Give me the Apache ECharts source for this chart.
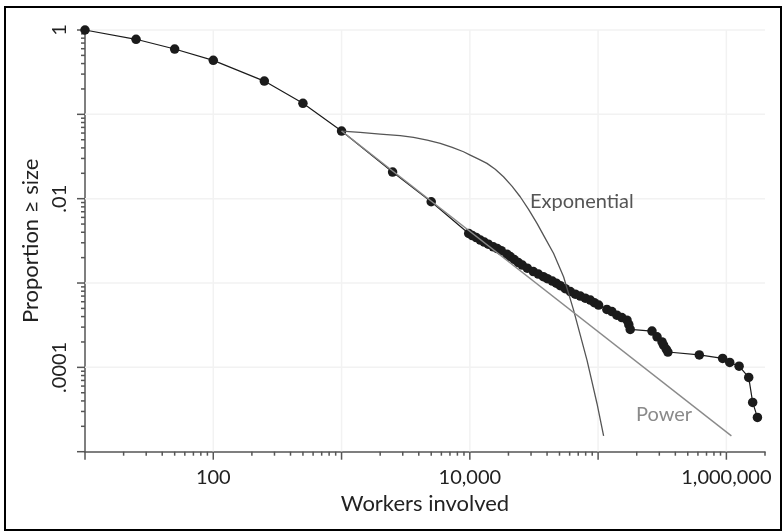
<!DOCTYPE html>
<html><head><meta charset="utf-8">
<script src="https://cdn.jsdelivr.net/npm/echarts@6/dist/echarts.min.js"></script>
<style>html,body{margin:0;padding:0;background:#fff}#c{width:783px;height:531px}</style>
</head><body><div id="c"></div>
<script>
// ---- data ----
const workers = [10, 25, 50, 100, 250, 500, 1000, 2500, 5000,
  9800, 10450, 11220, 12060, 12950, 13930, 15230, 16370, 17580, 19460, 20650, 22190, 23870, 25640,
  28050, 31250, 34190, 37400, 40180, 43950, 47200, 50700, 55460, 60700, 66400, 72600, 79400, 86900,
  93400, 100900, 117000, 128000, 140000, 153000, 168000, 173500, 178000, 263000, 288000, 315000,
  324000, 340000, 350000, 615000, 935000, 1062000, 1256000, 1493000, 1603000, 1746000];
const proportion = [1, 0.776, 0.595, 0.437, 0.248, 0.135, 0.0634, 0.0207, 0.0092,
  0.00387, 0.00365, 0.00346, 0.00323, 0.00306, 0.00289, 0.00269, 0.00256, 0.00242, 0.0022, 0.00206, 0.0019, 0.00175, 0.00163,
  0.0015, 0.001365, 0.001275, 0.00119, 0.001127, 0.001054, 0.000997, 0.000931, 0.000858, 0.000791, 0.000738, 0.0007, 0.000662, 0.000627,
  0.000585, 0.000547, 0.000486, 0.000458, 0.000416, 0.000389, 0.000363, 0.000321, 0.000282, 0.000269, 0.00023, 0.0002,
  0.000183, 0.000164, 0.000152, 0.0001406, 0.0001276, 0.0001143, 0.0001033, 0.0000759, 0.0000384, 0.0000255];
const expX = [1000, 1396, 2000, 2866, 3640, 4653, 5880, 7290, 8930, 10070, 11700, 13600, 15780, 18300,
  21290, 24700, 28700, 33400, 38730, 45000, 53800, 64400, 72620, 81900, 90100, 98000, 110400];
const expY = [0.0634, 0.0612, 0.0584, 0.056, 0.0533, 0.0496, 0.0453, 0.0406, 0.036, 0.0329, 0.0295, 0.0262, 0.0223, 0.0182,
  0.0141, 0.01054, 0.00746, 0.00509, 0.00338, 0.00224, 0.001185, 0.000477, 0.000241, 0.000122, 0.000065, 0.0000373, 0.0000154];
const powX = [1000, 1094000];
const powY = [0.0634, 0.0000154];

const X_MIN = 10, X_MAX = 2000000, Y_MIN = 0.00001, Y_MAX = 1;
const xMajor = [10, 100, 1000, 10000, 100000, 1000000];
const yMajor = [0.00001, 0.0001, 0.001, 0.01, 0.1, 1];
const minorMult = [2, 3, 4, 5, 6, 7, 8, 9];
const xTickLabels = {2: '100', 4: '10,000', 6: '1,000,000'};
const yTickLabels = {0: '1', '-2': '.01', '-4': '.0001'};
const labels = {exp: 'Exponential', pow: 'Power', xName: 'Workers involved', yName: 'Proportion \u2265 size'};

// ---- build ----
const xMinor = [], yMinor = [];
xMajor.forEach(d => minorMult.forEach(m => { const v = m * d; if (v <= X_MAX) xMinor.push(v); }));
yMajor.forEach(d => minorMult.forEach(m => { const v = m * d; if (v < Y_MAX) yMinor.push(v); }));

const FONT = 'Lato, "Open Sans", sans-serif';
const AXIS_COLOR = '#555';

function tickSeries(values, axis, len, z) {
  return {
    type: 'custom', silent: true, clip: false, z: z, animation: false,
    data: values.map(v => axis === 'x' ? [v, Y_MIN] : [X_MIN, v]),
    encode: {x: 0, y: 1},
    renderItem: function (params, api) {
      const p = api.coord([api.value(0), api.value(1)]);
      const shape = axis === 'x'
        ? {x1: p[0], y1: p[1], x2: p[0], y2: p[1] + len}
        : {x1: p[0] - len, y1: p[1], x2: p[0], y2: p[1]};
      return {type: 'line', shape: shape, style: {stroke: AXIS_COLOR, lineWidth: 1.5}};
    }
  };
}
function gridSeries(values, axis) {
  return {
    type: 'custom', silent: true, clip: false, z: 1, animation: false,
    data: values.map(v => axis === 'x' ? [v, Y_MIN] : [X_MIN, v]),
    encode: {x: 0, y: 1},
    renderItem: function (params, api) {
      let a, b;
      if (axis === 'x') { a = api.coord([api.value(0), Y_MIN]); b = api.coord([api.value(0), Y_MAX]); }
      else { a = api.coord([X_MIN, api.value(1)]); b = api.coord([X_MAX, api.value(1)]); }
      return {type: 'line', shape: {x1: a[0], y1: a[1], x2: b[0], y2: b[1]}, style: {stroke: '#f2f2f2', lineWidth: 1.5}};
    }
  };
}

const chart = echarts.init(document.getElementById('c'), null, {renderer: 'canvas'});
chart.setOption({
  animation: false,
  backgroundColor: '#fff',
  grid: {left: 85, top: 30, width: 680, height: 421.7, containLabel: false},
  xAxis: {
    type: 'log', logBase: 10, min: X_MIN, max: X_MAX,
    axisLine: {show: true, lineStyle: {color: AXIS_COLOR, width: 1.5}},
    axisTick: {show: false}, splitLine: {show: false}, minorTick: {show: false},
    axisLabel: {
      margin: 16, fontFamily: FONT, fontSize: 20, color: '#222',
      showMinLabel: true, showMaxLabel: true,
      formatter: v => { const e = Math.round(Math.log10(v)); return Math.abs(Math.log10(v) - e) < 1e-6 && xTickLabels[e] ? xTickLabels[e] : ''; }
    },
    name: labels.xName, nameLocation: 'middle', nameGap: 40,
    nameTextStyle: {fontFamily: FONT, fontSize: 22, color: '#222'}
  },
  yAxis: {
    type: 'log', logBase: 10, min: Y_MIN, max: Y_MAX,
    axisLine: {show: true, lineStyle: {color: AXIS_COLOR, width: 1.5}},
    axisTick: {show: false}, splitLine: {show: false}, minorTick: {show: false},
    axisLabel: {
      margin: 15, rotate: 90, fontFamily: FONT, fontSize: 20, color: '#222',
      formatter: v => { const e = Math.round(Math.log10(v)); return Math.abs(Math.log10(v) - e) < 1e-6 && yTickLabels[e] ? yTickLabels[e] : ''; }
    },
    name: labels.yName, nameLocation: 'middle', nameGap: 42,
    nameTextStyle: {fontFamily: FONT, fontSize: 22, color: '#222'}
  },
  series: [
    gridSeries(xMajor.slice(1), 'x'),
    gridSeries(yMajor.slice(1), 'y'),
    tickSeries(xMajor, 'x', 8, 2),
    tickSeries(xMinor, 'x', 4, 2),
    tickSeries(yMajor, 'y', 8, 2),
    tickSeries(yMinor, 'y', 4, 2),
    {
      name: 'data', type: 'line', z: 3,
      data: workers.map((w, i) => [w, proportion[i]]),
      showSymbol: true, showAllSymbol: true, symbol: 'circle', symbolSize: 9.5,
      itemStyle: {color: '#1b1b1b', borderWidth: 0},
      lineStyle: {color: '#1b1b1b', width: 1.2}
    },
    {
      name: 'exp', type: 'line', z: 4, smooth: false, showSymbol: false,
      data: expX.map((x, i) => [x, expY[i]]),
      lineStyle: {color: '#555', width: 1.3, join: 'round'}
    },
    {
      name: 'pow', type: 'line', z: 4, showSymbol: false,
      data: powX.map((x, i) => [x, powY[i]]),
      lineStyle: {color: '#8a8a8a', width: 1.4}
    }
  ],
  graphic: [
    {type: 'rect', shape: {x: 5, y: 7, width: 776, height: 523}, style: {fill: null, stroke: '#000', lineWidth: 2}, z: 10, silent: true},
    {type: 'text', x: 530, y: 202, style: {text: labels.exp, font: '20px ' + FONT, fill: '#555', textVerticalAlign: 'middle'}, z: 10},
    {type: 'text', x: 636, y: 415, style: {text: labels.pow, font: '20px ' + FONT, fill: '#8a8a8a', textVerticalAlign: 'middle'}, z: 10}
  ]
});
</script></body></html>
